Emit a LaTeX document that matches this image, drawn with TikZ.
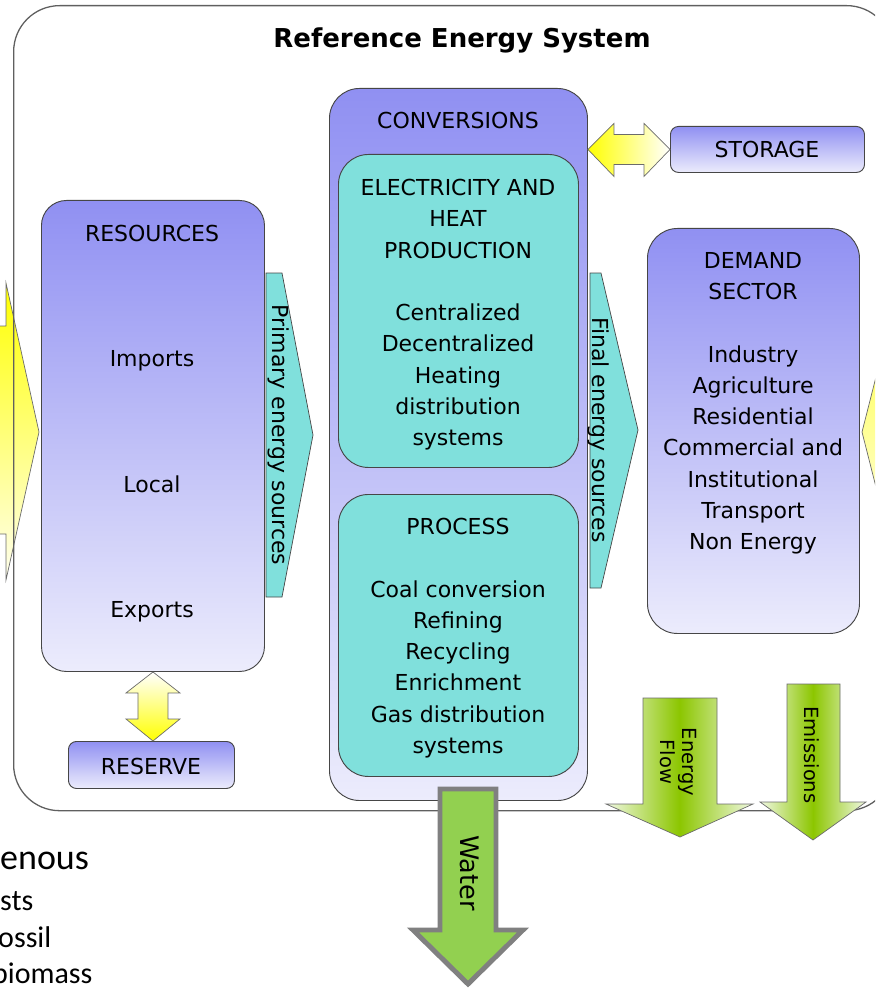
\documentclass[tikz,border=0pt]{standalone}
\usepackage{fontspec}
\setmainfont{DejaVu Sans}
\newfontfamily\carl{Carlito}
\usetikzlibrary{calc}
\definecolor{purpT}{RGB}{144,144,242}
\definecolor{purpB}{RGB}{236,236,252}
\definecolor{tealbox}{RGB}{128,224,220}
\definecolor{edgec}{RGB}{70,70,70}
\definecolor{framec}{RGB}{95,95,95}
\definecolor{yel}{RGB}{255,255,0}
\definecolor{yelpale}{RGB}{255,255,238}
\definecolor{grn}{RGB}{146,208,80}
\definecolor{grnmid}{RGB}{140,198,0}
\definecolor{grnpale}{RGB}{240,248,226}
\definecolor{wgray}{RGB}{128,128,128}
\tikzset{
  boxtext/.style={font=\fontsize{18.78pt}{26.7pt}\selectfont, align=center, inner sep=0pt},
  pbox/.style={draw=edgec, line width=0.8pt, top color=purpT, bottom color=purpB, anchor=north west, inner sep=0pt},
  tbox/.style={draw=edgec, line width=0.8pt, fill=tealbox, anchor=north west, inner sep=0pt, rounded corners=0.9cm},
  tarrow/.style={draw=edgec, line width=0.6pt, fill=tealbox},
  yarrow/.style={draw=edgec!80, line width=0.6pt},
  garrow/.style={draw=edgec!80, line width=0.6pt, left color=grnpale, right color=grnpale, middle color=grnmid},
  rottext/.style={rotate=-90, inner sep=0pt, align=center},
  bltext/.style={anchor=base west, inner sep=0pt},
}
\begin{document}
\begin{tikzpicture}[x=0.03cm, y=-0.03cm]
\useasboundingbox (0,0) rectangle (875,991);
\clip (0,0) rectangle (875,991);

% yellow arrows entering from the sides
\path[yarrow, top color=yel, bottom color=yelpale]
  (-30,326) -- (6,326) -- (6,283) -- (39,432) -- (6,580) -- (6,534) -- (-30,534) -- cycle;
\path[yarrow, top color=yel!75!white, bottom color=yelpale]
  (862,432) -- (895,302) -- (895,340) -- (930,340) -- (930,524) -- (895,524) -- (895,562) -- cycle;

% outer frame
\node[draw=framec, line width=1.1pt, rounded corners=1.38cm, minimum width=26.37cm,
      minimum height=24.15cm, anchor=north west, inner sep=0pt] (sys) at (13,5) {};
\node[font=\fontsize{22.19pt}{26pt}\selectfont\bfseries, anchor=base, inner sep=0pt] (title) at (462,48) {Reference Energy System};

% boxes
\node[pbox, rounded corners=0.75cm, minimum width=6.69cm, minimum height=14.13cm] (res) at (41,200) {};
\node[pbox, rounded corners=0.9cm, minimum width=7.74cm, minimum height=21.36cm] (conv) at (329,88) {};
\node[tbox, minimum width=7.2cm, minimum height=9.39cm] (elec) at (338,154) {};
\node[tbox, minimum width=7.2cm, minimum height=8.46cm] (proc) at (338,494) {};
\node[pbox, rounded corners=0.24cm, minimum width=5.82cm, minimum height=1.38cm] (stor) at (670,126) {};
\node[pbox, rounded corners=0.9cm, minimum width=6.36cm, minimum height=12.15cm] (dem) at (647,228) {};
\node[pbox, rounded corners=0.24cm, minimum width=4.98cm, minimum height=1.41cm] (rsv) at (68,741) {};

% texts in boxes
\node[boxtext, anchor=base] (tres) at (152,242) {RESOURCES};
\node[boxtext, anchor=base] (timp) at (152,366) {Imports};
\node[boxtext, anchor=base] (tloc) at (152,492) {Local};
\node[boxtext, anchor=base] (texp) at (152,617) {Exports};
\node[boxtext, anchor=base] (tconv) at (458,129) {CONVERSIONS};
\node[boxtext, anchor=north] (telec) at (458,179) {ELECTRICITY AND\\HEAT\\PRODUCTION\\[26.7pt]Centralized\\Decentralized\\Heating\\distribution\\systems};
\node[boxtext, anchor=north] (tproc) at (458,518) {PROCESS\\[26.7pt]Coal conversion\\Refining\\Recycling\\Enrichment\\Gas distribution\\systems};
\node[boxtext, anchor=base] (tstor) at (767,158) {STORAGE};
\node[boxtext, anchor=north] (tdem) at (753,252) {DEMAND\\SECTOR\\[26.7pt]Industry\\Agriculture\\Residential\\Commercial and\\Institutional\\Transport\\Non Energy};
\node[boxtext, anchor=base] (trsv) at (151,774) {RESERVE};

% primary / final energy arrows
\path[tarrow] (266,273) -- (282,273) -- (313,435) -- (282,597) -- (266,597) -- cycle;
\node[boxtext, rottext] (tprim) at (279,435) {Primary energy sources};
\path[tarrow] (590,273) -- (601,273) -- (638,430) -- (601,588) -- (590,588) -- cycle;
\node[boxtext, rottext] (tfin) at (599,430) {Final energy sources};

% storage double arrow
\coordinate (sA) at (conv.east |- stor.west);
\coordinate (sB) at (stor.west);
\path[yarrow, left color=yel, right color=white]
  (sA) -- ($(sA)+(26,-26)$) -- ($(sA)+(26,-15)$) -- ($(sB)+(-26,-15)$) -- ($(sB)+(-26,-26)$)
  -- (sB) -- ($(sB)+(-26,27)$) -- ($(sB)+(-26,15)$) -- ($(sA)+(26,15)$) -- ($(sA)+(26,27)$) -- cycle;

% reserve double arrow
\coordinate (vA) at (res.south);
\coordinate (vB) at (vA |- rsv.north);
\path[yarrow, top color=white, bottom color=yel]
  (vA) -- ($(vA)+(27,21)$) -- ($(vA)+(15,21)$) -- ($(vB)+(15,-22)$) -- ($(vB)+(27,-22)$)
  -- (vB) -- ($(vB)+(-27,-22)$) -- ($(vB)+(-15,-22)$) -- ($(vA)+(-15,21)$) -- ($(vA)+(-27,21)$) -- cycle;

% outgoing arrows
\path[draw=wgray, line width=4.2pt, fill=grn, miter limit=10]
  (440,789) -- (496,789) -- (496,930) -- (523,930) -- (468,984) -- (413,930) -- (440,930) -- cycle;
\node[rottext, font=\fontsize{21.77pt}{26pt}\selectfont] (twater) at (470,873) {Water};
\path[garrow] (643,698) -- (717,698) -- (717,804) -- (753,804) -- (680,837) -- (606,804) -- (643,804) -- cycle;
\node[rottext, font=\fontsize{16.65pt}{18.8pt}\selectfont] (tflow) at (678,762) {Energy\\Flow};
\path[garrow] (787,684) -- (840,684) -- (840,802) -- (866,802) -- (813,840) -- (760,802) -- (787,802) -- cycle;
\node[rottext, font=\fontsize{16.65pt}{18.8pt}\selectfont] (temis) at (812,755) {Emissions};

% clipped text lower left
\node[bltext, font=\carl\fontsize{30.7pt}{36pt}\selectfont] (l1) at (0,869) {enous};
\node[bltext, font=\carl\fontsize{25.6pt}{30pt}\selectfont] (l2) at (0,910) {sts};
\node[bltext, font=\carl\fontsize{25.6pt}{30pt}\selectfont] (l3) at (-2,947) {ossil};
\node[bltext, font=\carl\fontsize{25.6pt}{30pt}\selectfont] (l4) at (-8,983) {biomass};
\end{tikzpicture}
\end{document}
